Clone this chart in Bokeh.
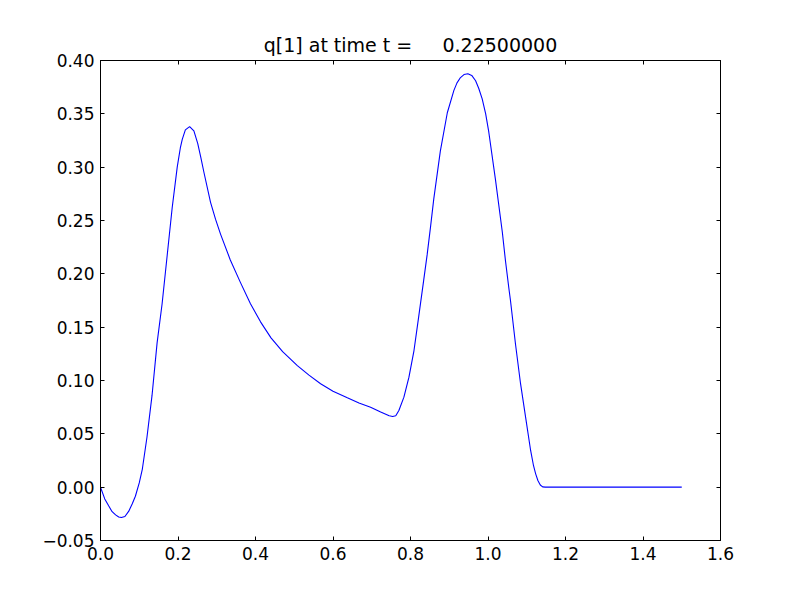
from bokeh.plotting import figure
from bokeh.models import Range1d, FixedTicker, LinearAxis
from bokeh.embed import file_html
from bokeh.resources import INLINE

x_vals = [0.0, 0.011, 0.021, 0.030, 0.039, 0.047, 0.054, 0.063, 0.073, 0.082, 0.090,
          0.100, 0.108, 0.120, 0.133, 0.146, 0.159, 0.172, 0.185, 0.198, 0.206,
          0.211, 0.219, 0.230, 0.241, 0.251, 0.259, 0.267, 0.284, 0.297, 0.310, 0.335, 0.361,
          0.387, 0.413, 0.440, 0.470, 0.508, 0.538, 0.568, 0.600, 0.637,
          0.667, 0.697, 0.723, 0.745, 0.754, 0.762, 0.770, 0.783, 0.796, 0.809,
          0.821, 0.834, 0.843, 0.852, 0.860, 0.877, 0.895, 0.912, 0.920, 0.929,
          0.938, 0.948, 0.958, 0.968, 0.976, 0.985, 0.994, 1.002, 1.019, 1.037,
          1.045, 1.054, 1.058, 1.071, 1.084, 1.097, 1.110, 1.117, 1.123, 1.129,
          1.135, 1.141, 1.148, 1.5]
q_vals = [0.0, -0.011, -0.0175, -0.023, -0.026, -0.028, -0.0285, -0.0275, -0.0225, -0.0155, -0.0085,
          0.004, 0.017, 0.047, 0.086, 0.135, 0.172, 0.217, 0.262, 0.300, 0.318,
          0.326, 0.335, 0.338, 0.334, 0.322, 0.309, 0.295, 0.267, 0.251, 0.237, 0.213, 0.192,
          0.172, 0.155, 0.140, 0.127, 0.114, 0.105, 0.097, 0.090, 0.0838,
          0.079, 0.075, 0.0705, 0.067, 0.0663, 0.067, 0.0719, 0.0844, 0.1031, 0.1281,
          0.1594, 0.1938, 0.218, 0.245, 0.270, 0.315, 0.351, 0.372, 0.379, 0.384,
          0.3868, 0.3875, 0.386, 0.381, 0.374, 0.364, 0.350, 0.333, 0.289, 0.239,
          0.2125, 0.186, 0.175, 0.134, 0.097, 0.0656, 0.0344, 0.021, 0.0125, 0.006,
          0.002, 0.0003, 0.0, 0.0]

x_ticks = [0.0, 0.2, 0.4, 0.6, 0.8, 1.0, 1.2, 1.4, 1.6]
x_tick_labels = ["0.0", "0.2", "0.4", "0.6", "0.8", "1.0", "1.2", "1.4", "1.6"]
y_ticks = [-0.05, 0.0, 0.05, 0.10, 0.15, 0.20, 0.25, 0.30, 0.35, 0.40]
y_tick_labels = ["\u22120.05", "0.00", "0.05", "0.10", "0.15", "0.20", "0.25", "0.30", "0.35", "0.40"]
title_text = "q[1] at time t =\u00a0\u00a0\u00a0\u00a0\u00a00.22500000"

FONT = "DejaVu Sans"

p = figure(width=784, height=584, output_backend="svg", toolbar_location=None,
           x_range=Range1d(0, 1.6), y_range=Range1d(-0.05, 0.40),
           min_border_left=100, min_border_right=64, min_border_top=60, min_border_bottom=44,
           x_axis_location=None, y_axis_location=None)

p.title.text = title_text
p.title.align = "center"
p.title.text_font = FONT
p.title.text_font_size = "19px"
p.title.text_font_style = "normal"
p.title.text_color = "black"
p.title.standoff = 10

p.xgrid.visible = False
p.ygrid.visible = False
p.outline_line_color = "black"
p.outline_line_width = 1
p.background_fill_color = "white"
p.border_fill_color = "white"

def style(ax, show_labels):
    ax.major_tick_in = 4
    ax.major_tick_out = 0
    ax.minor_tick_in = 0
    ax.minor_tick_out = 0
    ax.axis_line_color = "black"
    ax.major_tick_line_color = "black"
    ax.major_label_text_font = FONT
    ax.major_label_standoff = 6
    if show_labels:
        ax.major_label_text_font_size = "17px"
        ax.major_label_text_color = "black"
    else:
        ax.major_label_text_font_size = "0px"
        ax.major_label_text_color = None

xb = LinearAxis(ticker=FixedTicker(ticks=x_ticks),
                major_label_overrides={t: l for t, l in zip(x_ticks, x_tick_labels)})
style(xb, True)
p.add_layout(xb, "below")
xt = LinearAxis(ticker=FixedTicker(ticks=x_ticks))
style(xt, False)
p.add_layout(xt, "above")
yl = LinearAxis(ticker=FixedTicker(ticks=y_ticks),
                major_label_overrides={t: l for t, l in zip(y_ticks, y_tick_labels)})
style(yl, True)
p.add_layout(yl, "left")
yr = LinearAxis(ticker=FixedTicker(ticks=y_ticks))
style(yr, False)
p.add_layout(yr, "right")

p.line(x_vals, q_vals, line_color="#0000ff", line_width=1.1)

open("out.html", "w").write(file_html(p, INLINE))
